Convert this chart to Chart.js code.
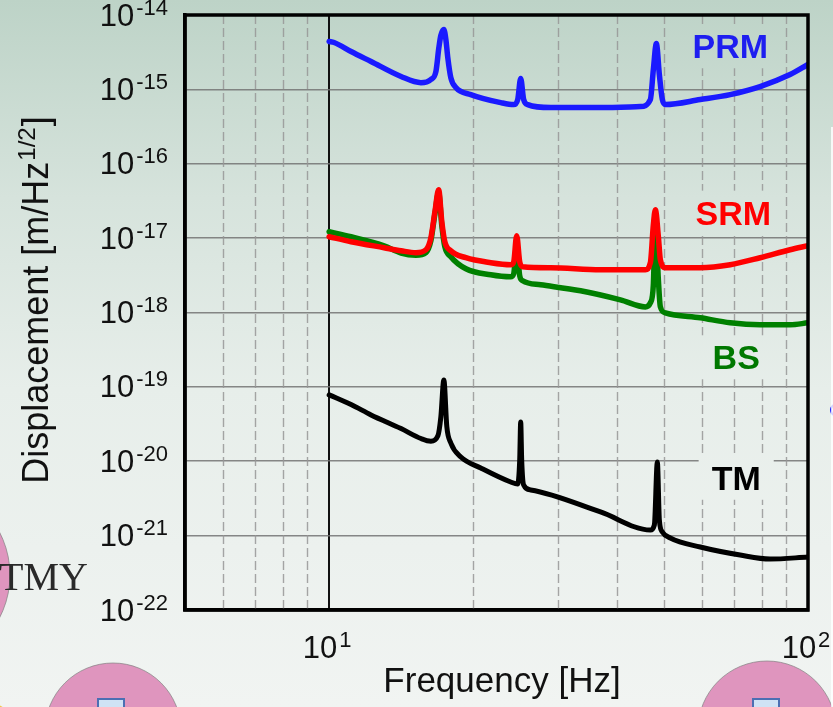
<!DOCTYPE html>
<html>
<head>
<meta charset="utf-8">
<title>Displacement noise</title>
<script src="https://cdn.jsdelivr.net/npm/chart.js@4.4.1/dist/chart.umd.min.js"></script>
<style>
    html, body { margin: 0; padding: 0; background: #eef2f0; }
    #wrap { width: 833px; height: 707px; }
</style>
</head>
<body>
<div id="wrap"><canvas id="noiseChart" width="833" height="707"></canvas></div>
<script>
// axis ranges and grid positions
const freqMin = 5;
const freqMax = 100;
const decadeFreqs = [10, 100];
const minorFreqs = [6, 7, 8, 9, 20, 30, 40, 50, 60, 70, 80, 90];
const dispMin = 1e-22;
const dispMax = 1e-14;
const dispDecades = [1e-22, 1e-21, 1e-20, 1e-19, 1e-18, 1e-17, 1e-16, 1e-15, 1e-14];

// PRM
const prmFreq = [10.0, 10.24, 11.11, 12.23, 14.13, 15.55, 16.31, 16.71, 16.95, 17.11, 17.36, 17.53, 17.69, 17.95, 18.39, 19.76,
    22.82, 24.29, 24.76, 25.12, 25.48, 25.98, 29.01, 36.87, 44.67, 46.86, 47.54, 48.23, 48.93, 49.64, 50.36, 59.57, 68.79, 79.43, 91.74, 100];
const prmDisp = [4.40e-15, 4.27e-15, 3.23e-15, 2.37e-15, 1.49e-15, 1.23e-15, 1.36e-15, 1.74e-15, 3.66e-15, 5.30e-15, 6.38e-15, 4.68e-15, 2.68e-15, 1.44e-15, 1.06e-15, 8.51e-16,
    6.64e-16, 6.24e-16, 7.29e-16, 1.40e-15, 7.29e-16, 6.24e-16, 5.69e-16, 5.69e-16, 5.87e-16, 7.29e-16, 1.85e-15, 4.13e-15, 1.58e-15, 7.29e-16, 6.24e-16, 7.29e-16, 8.51e-16, 1.09e-15, 1.58e-15, 2.16e-15];

// SRM
const srmFreq = [10.0, 11.11, 13.02, 14.13, 15.18, 15.93, 16.31, 16.63, 16.93, 17.19, 17.44, 17.95, 19.30, 21.75, 23.94, 24.29, 24.64,
    25.00, 25.36, 29.01, 36.87, 45.75, 46.86, 47.54, 48.00, 48.70, 49.17, 50.36, 59.57, 68.79, 79.43, 91.74, 100];
const srmDisp = [1.045e-17, 8.95e-18, 7.43e-18, 6.76e-18, 6.37e-18, 6.98e-18, 1.01e-17, 2.26e-17, 4.48e-17, 1.66e-17, 8.95e-18, 6.76e-18, 5.45e-18, 4.67e-18, 4.39e-18, 4.81e-18, 1.08e-17,
    4.81e-18, 4.12e-18, 4.00e-18, 3.76e-18, 3.76e-18, 4.67e-18, 1.51e-17, 2.41e-17, 1.045e-17, 5.12e-18, 4.00e-18, 4.00e-18, 4.39e-18, 5.45e-18, 6.98e-18, 7.91e-18];

// BS
const bsFreq = [10.0, 11.11, 13.02, 14.13, 15.18, 15.93, 16.31, 16.63, 16.93, 17.19, 17.44, 17.95, 19.30, 21.75, 23.94, 24.29, 24.64,
    25.00, 25.36, 27.65, 33.50, 40.58, 45.75, 46.86, 47.54, 48.00, 48.70, 49.17, 50.36, 59.57, 68.79, 79.43, 91.74, 100];
const bsDisp = [1.22e-17, 1.045e-17, 7.9e-18, 6.3e-18, 5.9e-18, 6.4e-18, 9.23e-18, 2.13e-17, 4.08e-17, 1.47e-17, 7.66e-18, 5.62e-18, 3.87e-18, 3.21e-18, 3.02e-18, 3.32e-18, 8.15e-18,
    3.12e-18, 2.67e-18, 2.36e-18, 1.96e-18, 1.48e-18, 1.19e-18, 1.35e-18, 2.36e-18, 1.77e-17, 2.75e-18, 1.19e-18, 9.9e-19, 8.49e-19, 7.26e-19, 6.83e-19, 6.83e-19, 7.26e-19];

// TM
const tmFreq = [10.0, 11.11, 12.23, 14.13, 15.55, 16.31, 16.87, 17.11, 17.36, 17.61, 17.95, 18.84, 20.73, 23.94, 24.76, 25.00, 25.12, 25.24, 25.48,
    26.36, 36.87, 46.86, 47.77, 48.46, 48.93, 49.64, 51.58, 59.57, 72.16, 83.33, 100];
const tmDisp = [7.80e-20, 5.80e-20, 4.20e-20, 2.75e-20, 2.02e-20, 1.86e-20, 2.20e-20, 3.94e-20, 1.24e-19, 2.90e-20, 1.76e-20, 1.14e-20, 8.13e-21, 5.26e-21, 4.94e-21, 1.04e-20, 3.38e-20, 1.04e-20, 4.80e-21,
    4.11e-21, 2.08e-21, 1.19e-21, 1.39e-21, 9.8e-21, 1.62e-21, 1.12e-21, 9.29e-22, 7.03e-22, 5.48e-22, 4.84e-22, 5.15e-22];

// curve names, and where their names sit (in data units)
const seriesNames = ['PRM', 'SRM', 'BS', 'TM'];
const nameFreq = [68.8, 69.8, 70.8, 70.8];
const nameDisp = [3.8e-15, 2.2e-17, 2.5e-19, 6.0e-21];

const seriesColors = ['rgb(26,26,255)', 'rgb(255,0,0)', 'rgb(0,128,0)', 'rgb(0,0,0)'];
const textColors = ['rgb(30,30,240)', 'rgb(255,0,0)', 'rgb(0,120,0)', 'rgb(0,0,0)'];

const FONT = '"Liberation Sans", Arial, Helvetica, sans-serif';

function pagePaint(ctx, h) {
    const g = ctx.createLinearGradient(0, 0, 0, h);
    g.addColorStop(0, '#bdd3c7');
    g.addColorStop(0.28, '#d6e3dc');
    g.addColorStop(0.55, '#e7eeea');
    g.addColorStop(1, '#f1f4f2');
    return g;
}

// bits of the slide that show around the figure
function drawSlideBits(ctx) {
    ctx.save();
    ctx.fillStyle = '#df95be';
    ctx.strokeStyle = 'rgba(130,130,130,0.7)';
    ctx.lineWidth = 1;
    [[-83, 575, 93], [113, 731, 68], [767, 730, 69]].forEach(([cx, cy, r]) => {
        ctx.beginPath();
        ctx.arc(cx, cy, r, 0, Math.PI * 2);
        ctx.fill();
        ctx.stroke();
    });
    ctx.fillStyle = '#cfe2f5';
    ctx.strokeStyle = '#4c6fb3';
    ctx.lineWidth = 2;
    [[98, 699], [753, 699]].forEach(([bx, by]) => {
        ctx.fillRect(bx, by, 26, 14);
        ctx.strokeRect(bx, by, 26, 14);
    });
    ctx.fillStyle = '#f2c64a';
    ctx.beginPath();
    ctx.arc(-10, 725, 22, 0, Math.PI * 2);
    ctx.fill();
    ctx.strokeStyle = '#2a2aff';
    ctx.lineWidth = 2;
    ctx.beginPath();
    ctx.arc(837, 410, 6, Math.PI * 0.6, Math.PI * 1.4);
    ctx.stroke();
    ctx.fillStyle = 'rgba(255,255,255,0.8)';
    ctx.fillRect(831, 127, 2, 580);
    ctx.font = '40px "Liberation Serif", "Times New Roman", serif';
    ctx.fillStyle = '#2a2a2a';
    ctx.textAlign = 'right';
    ctx.textBaseline = 'alphabetic';
    ctx.fillText('TMY', 88, 590);
    ctx.restore();
}

// "10" with a raised exponent; x is left edge
function drawPower(ctx, x, base, exp) {
    ctx.font = '31px ' + FONT;
    ctx.fillText('10', x, base);
    const w = ctx.measureText('10').width;
    ctx.font = '22px ' + FONT;
    ctx.fillText(exp, x + w + 2, base - 11);
}

function powerWidth(ctx, exp) {
    ctx.font = '31px ' + FONT;
    const w = ctx.measureText('10').width;
    ctx.font = '22px ' + FONT;
    return w + 2 + ctx.measureText(exp).width;
}

const figurePlugin = {
    id: 'figure',
    beforeDraw(chart) {
        const { ctx, width, height } = chart;
        ctx.save();
        ctx.fillStyle = pagePaint(ctx, height);
        ctx.fillRect(0, 0, width, height);
        ctx.restore();
        drawSlideBits(ctx);
    },
    beforeDatasetsDraw(chart) {
        const { ctx, chartArea: a, scales: { x, y } } = chart;
        ctx.save();
        // dashed minor frequency lines
        ctx.strokeStyle = 'rgba(150,150,150,0.85)';
        ctx.lineWidth = 1.4;
        ctx.setLineDash([9, 4]);
        minorFreqs.forEach(f => {
            const px = Math.round(x.getPixelForValue(f)) + 0.5;
            ctx.beginPath();
            ctx.moveTo(px, a.top);
            ctx.lineTo(px, a.bottom);
            ctx.stroke();
        });
        ctx.setLineDash([]);
        // curve names on plain boxes
        const paint = pagePaint(ctx, chart.height);
        ctx.font = 'bold 34px ' + FONT;
        ctx.textAlign = 'center';
        ctx.textBaseline = 'alphabetic';
        seriesNames.forEach((name, i) => {
            const px = x.getPixelForValue(nameFreq[i]);
            const py = y.getPixelForValue(nameDisp[i]);
            const w = ctx.measureText(name).width;
            ctx.fillStyle = paint;
            ctx.fillRect(px - w / 2 - 13, py - 22, w + 26, 44);
            ctx.fillStyle = textColors[i];
            ctx.fillText(name, px, py + 12);
        });
        ctx.restore();
    },
    afterDatasetsDraw(chart) {
        const { ctx, chartArea: a, scales: { x, y } } = chart;
        ctx.save();
        // frame
        ctx.strokeStyle = '#000';
        ctx.lineWidth = 3.5;
        ctx.strokeRect(a.left, a.top, a.right - a.left, a.bottom - a.top);

        ctx.fillStyle = '#111';
        ctx.textAlign = 'left';
        ctx.textBaseline = 'alphabetic';
        // y tick labels
        y.ticks.forEach(t => {
            const exp = String(Math.round(Math.log10(t.value)));
            const py = y.getPixelForValue(t.value);
            const w = powerWidth(ctx, exp);
            drawPower(ctx, a.left - 17 - w, py + 10.5, exp);
        });
        // x tick labels
        x.ticks.forEach(t => {
            const exp = String(Math.round(Math.log10(t.value)));
            const px = x.getPixelForValue(t.value);
            const w = powerWidth(ctx, exp);
            drawPower(ctx, px - w / 2 - 2, a.bottom + 48, exp);
        });

        // x title
        ctx.font = '35px ' + FONT;
        ctx.textAlign = 'center';
        ctx.fillText('Frequency [Hz]', 502, 692);

        // y title, rotated, with the 1/2 exponent
        const main = 'Displacement [m/Hz';
        ctx.font = '36px ' + FONT;
        const wMain = ctx.measureText(main).width;
        const wEnd = ctx.measureText(']').width;
        ctx.font = '24px ' + FONT;
        const wSup = ctx.measureText('1/2').width;
        const total = wMain + wSup + wEnd + 2;
        ctx.translate(48, 300);
        ctx.rotate(-Math.PI / 2);
        ctx.textAlign = 'left';
        let cx = -total / 2;
        ctx.font = '36px ' + FONT;
        ctx.fillText(main, cx, 0);
        cx += wMain + 1;
        ctx.font = '24px ' + FONT;
        ctx.fillText('1/2', cx, -13);
        cx += wSup + 1;
        ctx.font = '36px ' + FONT;
        ctx.fillText(']', cx, 0);
        ctx.restore();
    }
};

const freqSets = [prmFreq, srmFreq, bsFreq, tmFreq];
const dispSets = [prmDisp, srmDisp, bsDisp, tmDisp];

const datasets = seriesNames.map((name, i) => ({
    label: name,
    data: freqSets[i].map((f, k) => ({ x: f, y: dispSets[i][k] })),
    borderColor: seriesColors[i],
    backgroundColor: seriesColors[i],
    borderWidth: i === 3 ? 5 : 5.5,
    fill: false
}));

const noiseChart = new Chart(document.getElementById('noiseChart'), {
    type: 'line',
    data: { datasets },
    options: {
        responsive: false,
        animation: false,
        events: [],
        layout: { padding: { left: 185, top: 15, right: 25, bottom: 97 } },
        plugins: { legend: { display: false }, tooltip: { enabled: false } },
        elements: {
            point: { radius: 0 },
            line: { cubicInterpolationMode: 'monotone', borderJoinStyle: 'round', borderCapStyle: 'round' }
        },
        scales: {
            x: {
                type: 'logarithmic',
                min: freqMin,
                max: freqMax,
                afterBuildTicks: s => { s.ticks = decadeFreqs.map(v => ({ value: v })); },
                afterFit: s => { s.height = 0; },
                ticks: { display: false },
                grid: {
                    drawTicks: false,
                    color: c => (c.tick && c.tick.value === 10 ? '#111' : 'rgba(0,0,0,0)'),
                    lineWidth: 2
                },
                border: { color: '#000', width: 3.5 }
            },
            y: {
                type: 'logarithmic',
                min: dispMin,
                max: dispMax,
                afterBuildTicks: s => { s.ticks = dispDecades.map(v => ({ value: v })); },
                afterFit: s => { s.width = 0; },
                ticks: { display: false },
                grid: { drawTicks: false, color: 'rgba(115,115,115,0.85)', lineWidth: 1.6 },
                border: { color: '#000', width: 3.5 }
            }
        }
    },
    plugins: [figurePlugin]
});
</script>
</body>
</html>
